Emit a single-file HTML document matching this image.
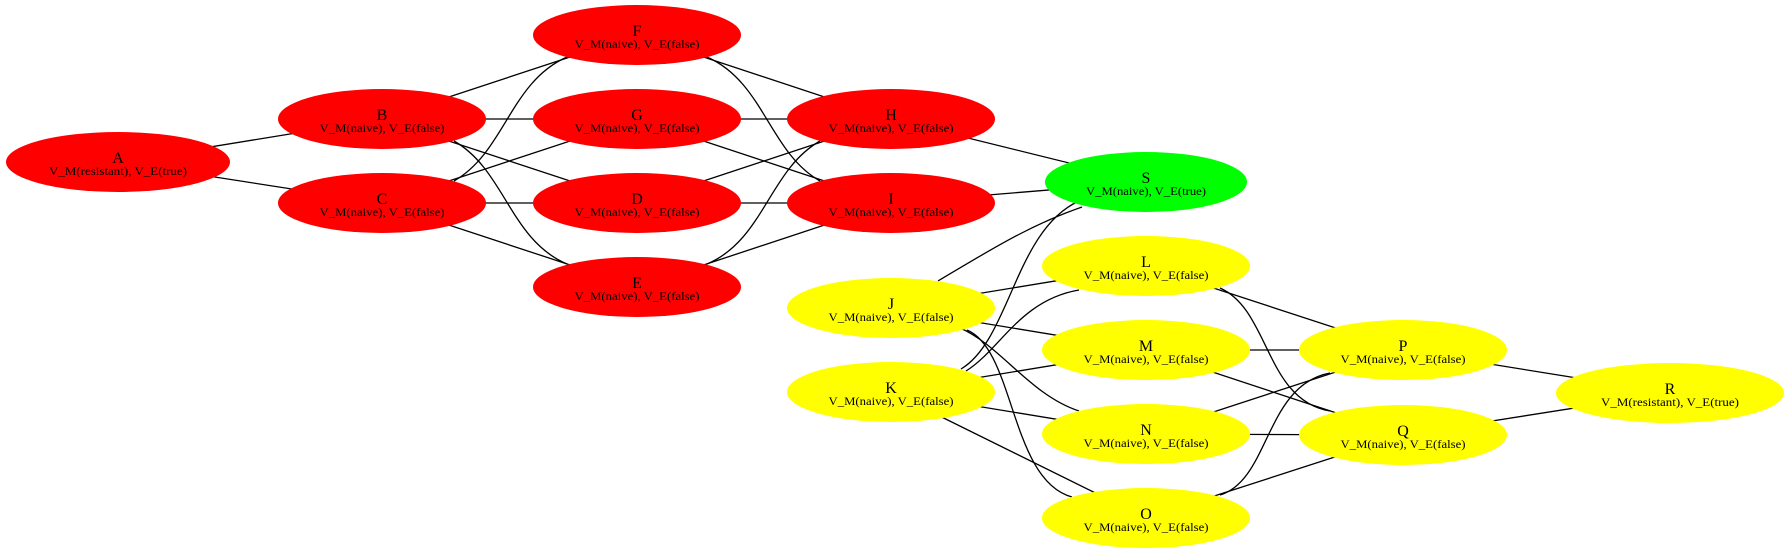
<!DOCTYPE html>
<html><head><meta charset="utf-8"><style>
html,body{margin:0;padding:0;background:#fff;}
svg{display:block;}
text{font-family:"Liberation Serif",serif;text-anchor:middle;fill:#000;}
.t{font-size:16px;}
.s{font-size:11.5px;}
</style></head><body>
<svg width="1784" height="554" viewBox="0 0 1784 554" xmlns="http://www.w3.org/2000/svg">
<g stroke="#000" stroke-width="1.3" fill="none">
<line x1="118" y1="162" x2="382" y2="119"/>
<line x1="118" y1="162" x2="382" y2="203"/>
<line x1="382" y1="119" x2="637" y2="35"/>
<line x1="382" y1="119" x2="637" y2="119"/>
<line x1="382" y1="119" x2="637" y2="203"/>
<line x1="382" y1="203" x2="637" y2="119"/>
<line x1="382" y1="203" x2="637" y2="203"/>
<line x1="382" y1="203" x2="637" y2="287"/>
<path d="M454,141 C505,170 510,240 567,264"/>
<path d="M454,181 C505,152 510,82 567,57"/>
<line x1="637" y1="35" x2="891" y2="119"/>
<line x1="637" y1="119" x2="891" y2="119"/>
<line x1="637" y1="119" x2="891" y2="203"/>
<line x1="637" y1="203" x2="891" y2="119"/>
<line x1="637" y1="203" x2="891" y2="203"/>
<line x1="637" y1="287" x2="891" y2="203"/>
<path d="M707,57 C764,82 769,152 820,181"/>
<path d="M707,264 C764,240 769,170 820,141"/>
<line x1="891" y1="119" x2="1146" y2="182"/>
<line x1="891" y1="203" x2="1146" y2="182"/>
<path d="M938,281 C990,250 1030,225 1082,207"/>
<path d="M961,369 C1010,340 1015,230 1079,201"/>
<path d="M966,371 C1000,350 1020,300 1079,290"/>
<path d="M967,330 C1015,350 1010,480 1072,497"/>
<path d="M960,328 C1000,345 1030,395 1079,411"/>
<line x1="891" y1="308" x2="1146" y2="266"/>
<line x1="891" y1="308" x2="1146" y2="350"/>
<line x1="891" y1="392" x2="1146" y2="350"/>
<line x1="891" y1="392" x2="1146" y2="434"/>
<line x1="891" y1="392" x2="1146" y2="518"/>
<line x1="1146" y1="266" x2="1403" y2="350"/>
<line x1="1146" y1="350" x2="1403" y2="350"/>
<line x1="1146" y1="350" x2="1403" y2="435"/>
<line x1="1146" y1="434" x2="1403" y2="350"/>
<line x1="1146" y1="434" x2="1403" y2="435"/>
<line x1="1146" y1="518" x2="1403" y2="435"/>
<path d="M1220,288 C1270,310 1265,400 1330,411"/>
<path d="M1220,495 C1270,480 1265,385 1330,373"/>
<line x1="1403" y1="350" x2="1670" y2="393"/>
<line x1="1403" y1="435" x2="1670" y2="393"/>
</g>
<g>
<ellipse cx="118" cy="162" rx="112" ry="30" fill="#ff0000"/>
<ellipse cx="382" cy="119" rx="104" ry="30" fill="#ff0000"/>
<ellipse cx="382" cy="203" rx="104" ry="30" fill="#ff0000"/>
<ellipse cx="637" cy="35" rx="104" ry="30" fill="#ff0000"/>
<ellipse cx="637" cy="119" rx="104" ry="30" fill="#ff0000"/>
<ellipse cx="637" cy="203" rx="104" ry="30" fill="#ff0000"/>
<ellipse cx="637" cy="287" rx="104" ry="30" fill="#ff0000"/>
<ellipse cx="891" cy="119" rx="104" ry="30" fill="#ff0000"/>
<ellipse cx="891" cy="203" rx="104" ry="30" fill="#ff0000"/>
<ellipse cx="1146" cy="182" rx="101" ry="30" fill="#00ff00"/>
<ellipse cx="891" cy="308" rx="104" ry="30" fill="#ffff00"/>
<ellipse cx="891" cy="392" rx="104" ry="30" fill="#ffff00"/>
<ellipse cx="1146" cy="266" rx="104" ry="30" fill="#ffff00"/>
<ellipse cx="1146" cy="350" rx="104" ry="30" fill="#ffff00"/>
<ellipse cx="1146" cy="434" rx="104" ry="30" fill="#ffff00"/>
<ellipse cx="1146" cy="518" rx="104" ry="30" fill="#ffff00"/>
<ellipse cx="1403" cy="350" rx="104" ry="30" fill="#ffff00"/>
<ellipse cx="1403" cy="435" rx="104" ry="30" fill="#ffff00"/>
<ellipse cx="1670" cy="393" rx="114" ry="30" fill="#ffff00"/>
</g>
<g>
<text class="t" x="118" y="163">A</text><text class="s" x="118" y="175" textLength="138" lengthAdjust="spacingAndGlyphs">V_M(resistant), V_E(true)</text>
<text class="t" x="382" y="120">B</text><text class="s" x="382" y="132" textLength="125" lengthAdjust="spacingAndGlyphs">V_M(naive), V_E(false)</text>
<text class="t" x="382" y="204">C</text><text class="s" x="382" y="216" textLength="125" lengthAdjust="spacingAndGlyphs">V_M(naive), V_E(false)</text>
<text class="t" x="637" y="36">F</text><text class="s" x="637" y="48" textLength="125" lengthAdjust="spacingAndGlyphs">V_M(naive), V_E(false)</text>
<text class="t" x="637" y="120">G</text><text class="s" x="637" y="132" textLength="125" lengthAdjust="spacingAndGlyphs">V_M(naive), V_E(false)</text>
<text class="t" x="637" y="204">D</text><text class="s" x="637" y="216" textLength="125" lengthAdjust="spacingAndGlyphs">V_M(naive), V_E(false)</text>
<text class="t" x="637" y="288">E</text><text class="s" x="637" y="300" textLength="125" lengthAdjust="spacingAndGlyphs">V_M(naive), V_E(false)</text>
<text class="t" x="891" y="120">H</text><text class="s" x="891" y="132" textLength="125" lengthAdjust="spacingAndGlyphs">V_M(naive), V_E(false)</text>
<text class="t" x="891" y="204">I</text><text class="s" x="891" y="216" textLength="125" lengthAdjust="spacingAndGlyphs">V_M(naive), V_E(false)</text>
<text class="t" x="1146" y="183">S</text><text class="s" x="1146" y="195" textLength="120" lengthAdjust="spacingAndGlyphs">V_M(naive), V_E(true)</text>
<text class="t" x="891" y="309">J</text><text class="s" x="891" y="321" textLength="125" lengthAdjust="spacingAndGlyphs">V_M(naive), V_E(false)</text>
<text class="t" x="891" y="393">K</text><text class="s" x="891" y="405" textLength="125" lengthAdjust="spacingAndGlyphs">V_M(naive), V_E(false)</text>
<text class="t" x="1146" y="267">L</text><text class="s" x="1146" y="279" textLength="125" lengthAdjust="spacingAndGlyphs">V_M(naive), V_E(false)</text>
<text class="t" x="1146" y="351">M</text><text class="s" x="1146" y="363" textLength="125" lengthAdjust="spacingAndGlyphs">V_M(naive), V_E(false)</text>
<text class="t" x="1146" y="435">N</text><text class="s" x="1146" y="447" textLength="125" lengthAdjust="spacingAndGlyphs">V_M(naive), V_E(false)</text>
<text class="t" x="1146" y="519">O</text><text class="s" x="1146" y="531" textLength="125" lengthAdjust="spacingAndGlyphs">V_M(naive), V_E(false)</text>
<text class="t" x="1403" y="351">P</text><text class="s" x="1403" y="363" textLength="125" lengthAdjust="spacingAndGlyphs">V_M(naive), V_E(false)</text>
<text class="t" x="1403" y="436">Q</text><text class="s" x="1403" y="448" textLength="125" lengthAdjust="spacingAndGlyphs">V_M(naive), V_E(false)</text>
<text class="t" x="1670" y="394">R</text><text class="s" x="1670" y="406" textLength="138" lengthAdjust="spacingAndGlyphs">V_M(resistant), V_E(true)</text>
</g>
</svg>
</body></html>
